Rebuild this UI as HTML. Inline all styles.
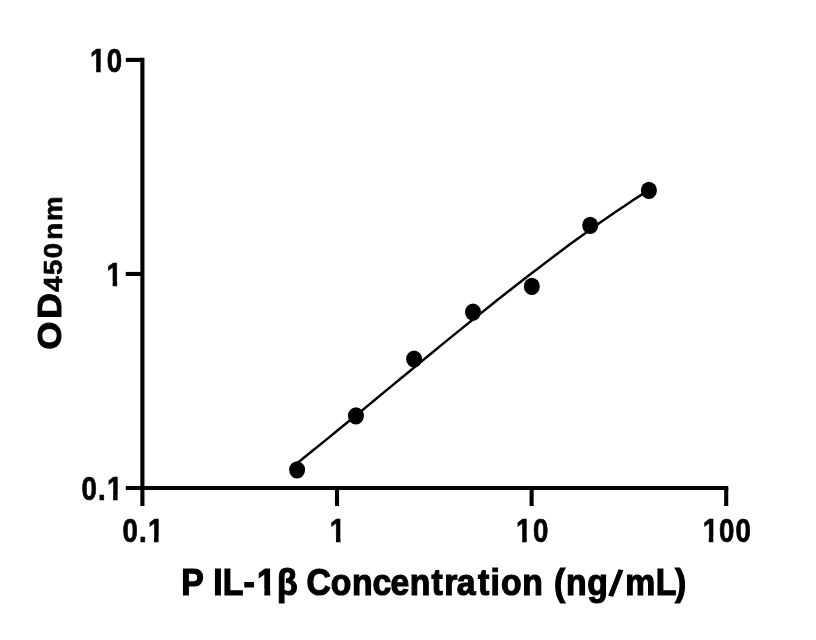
<!DOCTYPE html>
<html lang="en">
<head>
<meta charset="utf-8">
<title>P IL-1β standard curve</title>
<style>
html,body{margin:0;padding:0;background:#fff;}
body{width:816px;height:640px;overflow:hidden;}
svg{display:block;}
</style>
</head>
<body>
<svg width="816" height="640" viewBox="0 0 816 640" font-family="'Liberation Sans', sans-serif" font-weight="bold" fill="#000">
<rect width="816" height="640" fill="#fff"/>
<!-- axes and ticks -->
<g stroke="#000" stroke-width="4.1" fill="none" stroke-linecap="butt">
<path d="M125.8,59.9 H142.4"/>
<path d="M125.8,273.95 H142.4"/>
<path d="M125.8,488.0 H728.25"/>
<path d="M142.4,57.85 V506.0"/>
<path d="M337.0,488.0 V506.0"/>
<path d="M531.6,488.0 V506.0"/>
<path d="M726.2,488.0 V506.0"/>
</g>
<!-- fitted curve and data points -->
<path d="M297.1,463.2 L305.1,456.8 L313.1,450.3 L321.1,443.9 L329.1,437.4 L337.1,430.8 L345.1,424.3 L353.1,417.8 L361.1,411.2 L369.1,404.6 L377.1,398.0 L385.1,391.4 L393.0,384.9 L401.0,378.3 L409.0,371.7 L417.0,365.1 L425.0,358.5 L433.0,352.0 L441.0,345.4 L449.0,338.9 L457.0,332.4 L465.0,325.9 L473.0,319.5 L481.0,313.1 L489.0,306.7 L497.0,300.3 L505.0,294.0 L513.0,287.7 L521.0,281.5 L529.0,275.3 L537.0,269.2 L545.0,263.1 L553.0,257.0 L561.0,251.1 L568.9,245.1 L576.9,239.3 L584.9,233.5 L592.9,227.8 L600.9,222.1 L608.9,216.6 L616.9,211.1 L624.9,205.7 L632.9,200.3 L640.9,195.1 L648.9,189.9" stroke="#000" stroke-width="2.45" fill="none" stroke-linecap="round" stroke-linejoin="round"/>
<ellipse cx="297.1" cy="469.8" rx="8.0" ry="8.6"/>
<ellipse cx="355.9" cy="415.8" rx="8.0" ry="8.6"/>
<ellipse cx="414.1" cy="359.0" rx="8.0" ry="8.6"/>
<ellipse cx="473.0" cy="312.1" rx="8.0" ry="8.6"/>
<ellipse cx="531.8" cy="286.4" rx="8.0" ry="8.6"/>
<ellipse cx="590.2" cy="225.3" rx="8.0" ry="8.6"/>
<ellipse cx="648.9" cy="190.4" rx="8.0" ry="8.6"/>
<!-- tick labels -->
<g transform="translate(0,72.05) scale(0.85,1)"><text x="105.96 125.66" y="0" font-size="32.6" stroke="#000" stroke-width="0.7" stroke-linejoin="miter">10</text><rect x="106.17" y="-4.98" width="6.98" height="6.83" fill="#fff"/><rect x="118.47" y="-4.98" width="6.64" height="6.83" fill="#fff"/></g>
<g transform="translate(0,286.05) scale(0.85,1)"><text x="125.32" y="0" font-size="32.6" stroke="#000" stroke-width="0.7" stroke-linejoin="miter">1</text><rect x="125.52" y="-4.98" width="6.98" height="6.83" fill="#fff"/><rect x="137.83" y="-4.98" width="6.64" height="6.83" fill="#fff"/></g>
<g transform="translate(0,500.05) scale(0.85,1)"><text x="95.87 115.25 125.84" y="0" font-size="32.6" stroke="#000" stroke-width="0.7" stroke-linejoin="miter">0.1</text><rect x="126.05" y="-4.98" width="6.98" height="6.83" fill="#fff"/><rect x="138.36" y="-4.98" width="6.64" height="6.83" fill="#fff"/></g>
<g transform="translate(0,541.75) scale(0.85,1)"><text x="144.02 163.60 174.02" y="0" font-size="32.6" stroke="#000" stroke-width="0.7" stroke-linejoin="miter">0.1</text><rect x="174.22" y="-4.98" width="6.98" height="6.83" fill="#fff"/><rect x="186.53" y="-4.98" width="6.64" height="6.83" fill="#fff"/></g>
<g transform="translate(0,541.75) scale(0.85,1)"><text x="388.08" y="0" font-size="32.6" stroke="#000" stroke-width="0.7" stroke-linejoin="miter">1</text><rect x="388.28" y="-4.98" width="6.98" height="6.83" fill="#fff"/><rect x="400.59" y="-4.98" width="6.64" height="6.83" fill="#fff"/></g>
<g transform="translate(0,541.75) scale(0.85,1)"><text x="607.17 627.02" y="0" font-size="32.6" stroke="#000" stroke-width="0.7" stroke-linejoin="miter">10</text><rect x="607.37" y="-4.98" width="6.98" height="6.83" fill="#fff"/><rect x="619.68" y="-4.98" width="6.64" height="6.83" fill="#fff"/></g>
<g transform="translate(0,541.75) scale(0.85,1)"><text x="826.67 846.02 865.31" y="0" font-size="32.6" stroke="#000" stroke-width="0.7" stroke-linejoin="miter">100</text><rect x="826.87" y="-4.98" width="6.98" height="6.83" fill="#fff"/><rect x="839.18" y="-4.98" width="6.64" height="6.83" fill="#fff"/></g>
<!-- x axis title -->
<g transform="translate(0,594.6) scale(0.93,1)"><text x="194.93 219.15 229.31 239.44 261.77 276.44 297.74 319.89 329.60 355.63 378.47 400.54 419.98 440.51 463.85 477.77 491.03 514.01 527.34 538.59 561.69 583.87 595.65 608.52 631.37 654.66 672.23 704.98 725.86" y="0 0 0 0 -0.5 0 0 0 0 0 0 0 0 0 0 0 0 0 0 0 0 0 0 0 0 0 0 0 0" rotate="0 0 0 0 0 0 0 0 0 0 0 0 0 0 0 0 0 0 0 0 0 0 0 0 0 12 0 0 0" font-size="36.3" stroke="#000" stroke-width="1.2" stroke-linejoin="miter">P IL-1β Concentration (ng/mL)</text><rect x="276.63" y="-5.60" width="7.61" height="7.70" fill="#fff"/><rect x="290.57" y="-5.60" width="7.23" height="7.70" fill="#fff"/></g>
<!-- y axis title -->
<g transform="translate(61.1,0) rotate(-90) scale(1.07,1)"><text x="-326.77 -298.16" y="0" font-size="33.8" stroke="#000" stroke-width="1.0">OD<tspan x="-272.72 -257.07 -241.31 -224.19 -206.47" y="0.7" font-size="25.8" stroke-width="0.6">450nm</tspan></text></g>
</svg>
</body>
</html>
